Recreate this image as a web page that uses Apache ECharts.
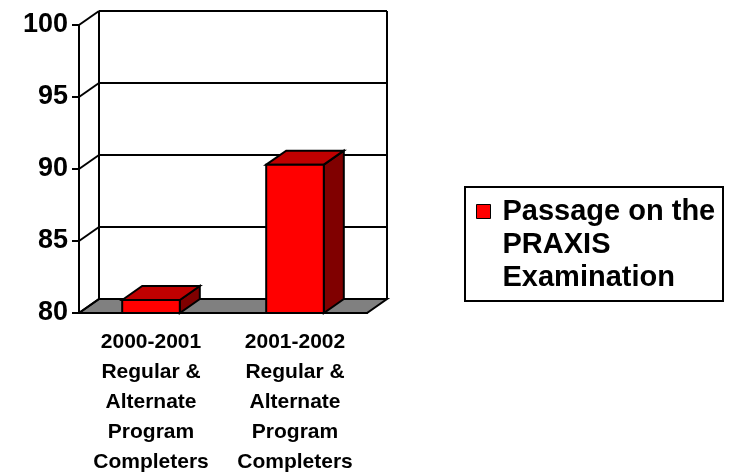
<!DOCTYPE html>
<html>
<head>
<meta charset="utf-8">
<script src="https://cdn.jsdelivr.net/npm/echarts@6/dist/echarts.min.js"></script>
<style>
    body { margin: 0; background: #ffffff; }
    #myChart { width: 735px; height: 472px; }
</style>
</head>
<body>
<div id="myChart"></div>
<script>
    // data
    let categories = [
        '2000-2001\nRegular &\nAlternate\nProgram\nCompleters',
        '2001-2002\nRegular &\nAlternate\nProgram\nCompleters'
    ]
    let seriesName = 'Passage on the PRAXIS Examination'
    let legendLines = ['Passage on the', 'PRAXIS', 'Examination']
    let passage = [80.9, 90.3]
    let yTicks = [80, 85, 90, 95, 100]

    // 3d look
    let depthX = 20
    let depthY = -14
    let lw = 2
    let font = '"Liberation Sans", Arial, sans-serif'

    function frameItem(params, api) {
        let cs = params.coordSys
        let x0 = cs.x, x1 = cs.x + cs.width
        let yb = api.coord([0, yTicks[0]])[1]
        let yt = api.coord([0, yTicks[yTicks.length - 1]])[1]
        let line = {stroke: '#000', lineWidth: lw}
        let kids = []
        // floor
        kids.push({type: 'polygon', shape: {points: [[x0, yb], [x1, yb], [x1 + depthX, yb + depthY], [x0 + depthX, yb + depthY]]},
            style: {fill: '#808080', stroke: '#000', lineWidth: lw}})
        // back wall edges
        kids.push({type: 'line', shape: {x1: x0 + depthX, y1: yt + depthY, x2: x0 + depthX, y2: yb + depthY}, style: line})
        kids.push({type: 'line', shape: {x1: x1 + depthX, y1: yt + depthY, x2: x1 + depthX, y2: yb + depthY}, style: line})
        yTicks.forEach(function (v) {
            let y = api.coord([0, v])[1]
            // side wall diagonal
            kids.push({type: 'line', shape: {x1: x0, y1: y, x2: x0 + depthX, y2: y + depthY}, style: line})
            if (v !== yTicks[0]) {
                kids.push({type: 'line', shape: {x1: x0 + depthX, y1: y + depthY, x2: x1 + depthX, y2: y + depthY}, style: line})
            }
        })
        return {type: 'group', children: kids}
    }

    function barItem(params, api) {
        let top = api.coord([api.value(0), api.value(1)])
        let bottom = api.coord([api.value(0), yTicks[0]])
        let w = api.size([1, 0])[0] * 0.4
        let l = top[0] - w / 2, r = top[0] + w / 2
        let yt = top[1], yb = bottom[1]
        let edge = {stroke: '#000', lineWidth: lw}
        return {
            type: 'group',
            children: [
                {type: 'polygon', shape: {points: [[r, yt], [r + depthX, yt + depthY], [r + depthX, yb + depthY], [r, yb]]},
                    style: Object.assign({fill: '#800000'}, edge)},
                {type: 'polygon', shape: {points: [[l, yt], [l + depthX, yt + depthY], [r + depthX, yt + depthY], [r, yt]]},
                    style: Object.assign({fill: '#c00000'}, edge)},
                {type: 'rect', shape: {x: l, y: yt, width: w, height: yb - yt},
                    style: Object.assign({fill: '#ff0000'}, edge)}
            ]
        }
    }

    let myChart = echarts.init(document.getElementById('myChart'))
    myChart.setOption({
        animation: false,
        grid: {left: 79, right: 368, top: 25, bottom: 159, outerBoundsMode: 'none'},
        xAxis: {
            type: 'category',
            data: categories,
            axisLine: {lineStyle: {color: '#000', width: lw}},
            axisTick: {length: 8, lineStyle: {color: '#000', width: lw}},
            axisLabel: {color: '#000', fontFamily: font, fontWeight: 'bold', fontSize: 21, lineHeight: 30, margin: 14, interval: 0}
        },
        yAxis: {
            type: 'value',
            min: 80,
            max: 100,
            interval: 5,
            axisLine: {show: true, lineStyle: {color: '#000', width: lw}},
            axisTick: {show: true, length: 7, lineStyle: {color: '#000', width: lw}},
            axisLabel: {color: '#000', fontFamily: font, fontWeight: 'bold', fontSize: 27, margin: 11},
            splitLine: {show: false}
        },
        legend: {
            left: 476,
            top: 129,
            padding: 0,
            itemWidth: 14,
            itemHeight: 14,
            data: [{name: seriesName, icon: 'rect', itemStyle: {color: '#ff0000', borderColor: '#000', borderWidth: 1}}],
            // two empty lines on top so the first line sits beside the icon
            formatter: function () { return '\n\n' + legendLines.join('\n') },
            textStyle: {color: '#000', fontFamily: font, fontWeight: 'bold', fontSize: 29, lineHeight: 33, padding: [0, 0, 0, 7]}
        },
        graphic: [{
            type: 'rect',
            shape: {x: 465, y: 187, width: 258, height: 114},
            style: {fill: 'none', stroke: '#000', lineWidth: lw}
        }],
        series: [
            {name: 'frame', type: 'custom', silent: true, z: 1, data: [0], renderItem: frameItem},
            {
                name: seriesName,
                type: 'custom',
                z: 3,
                itemStyle: {color: '#ff0000'},
                data: passage.map(function (v, i) { return [i, v] }),
                encode: {x: 0, y: 1},
                renderItem: barItem
            }
        ]
    })
</script>
</body>
</html>
